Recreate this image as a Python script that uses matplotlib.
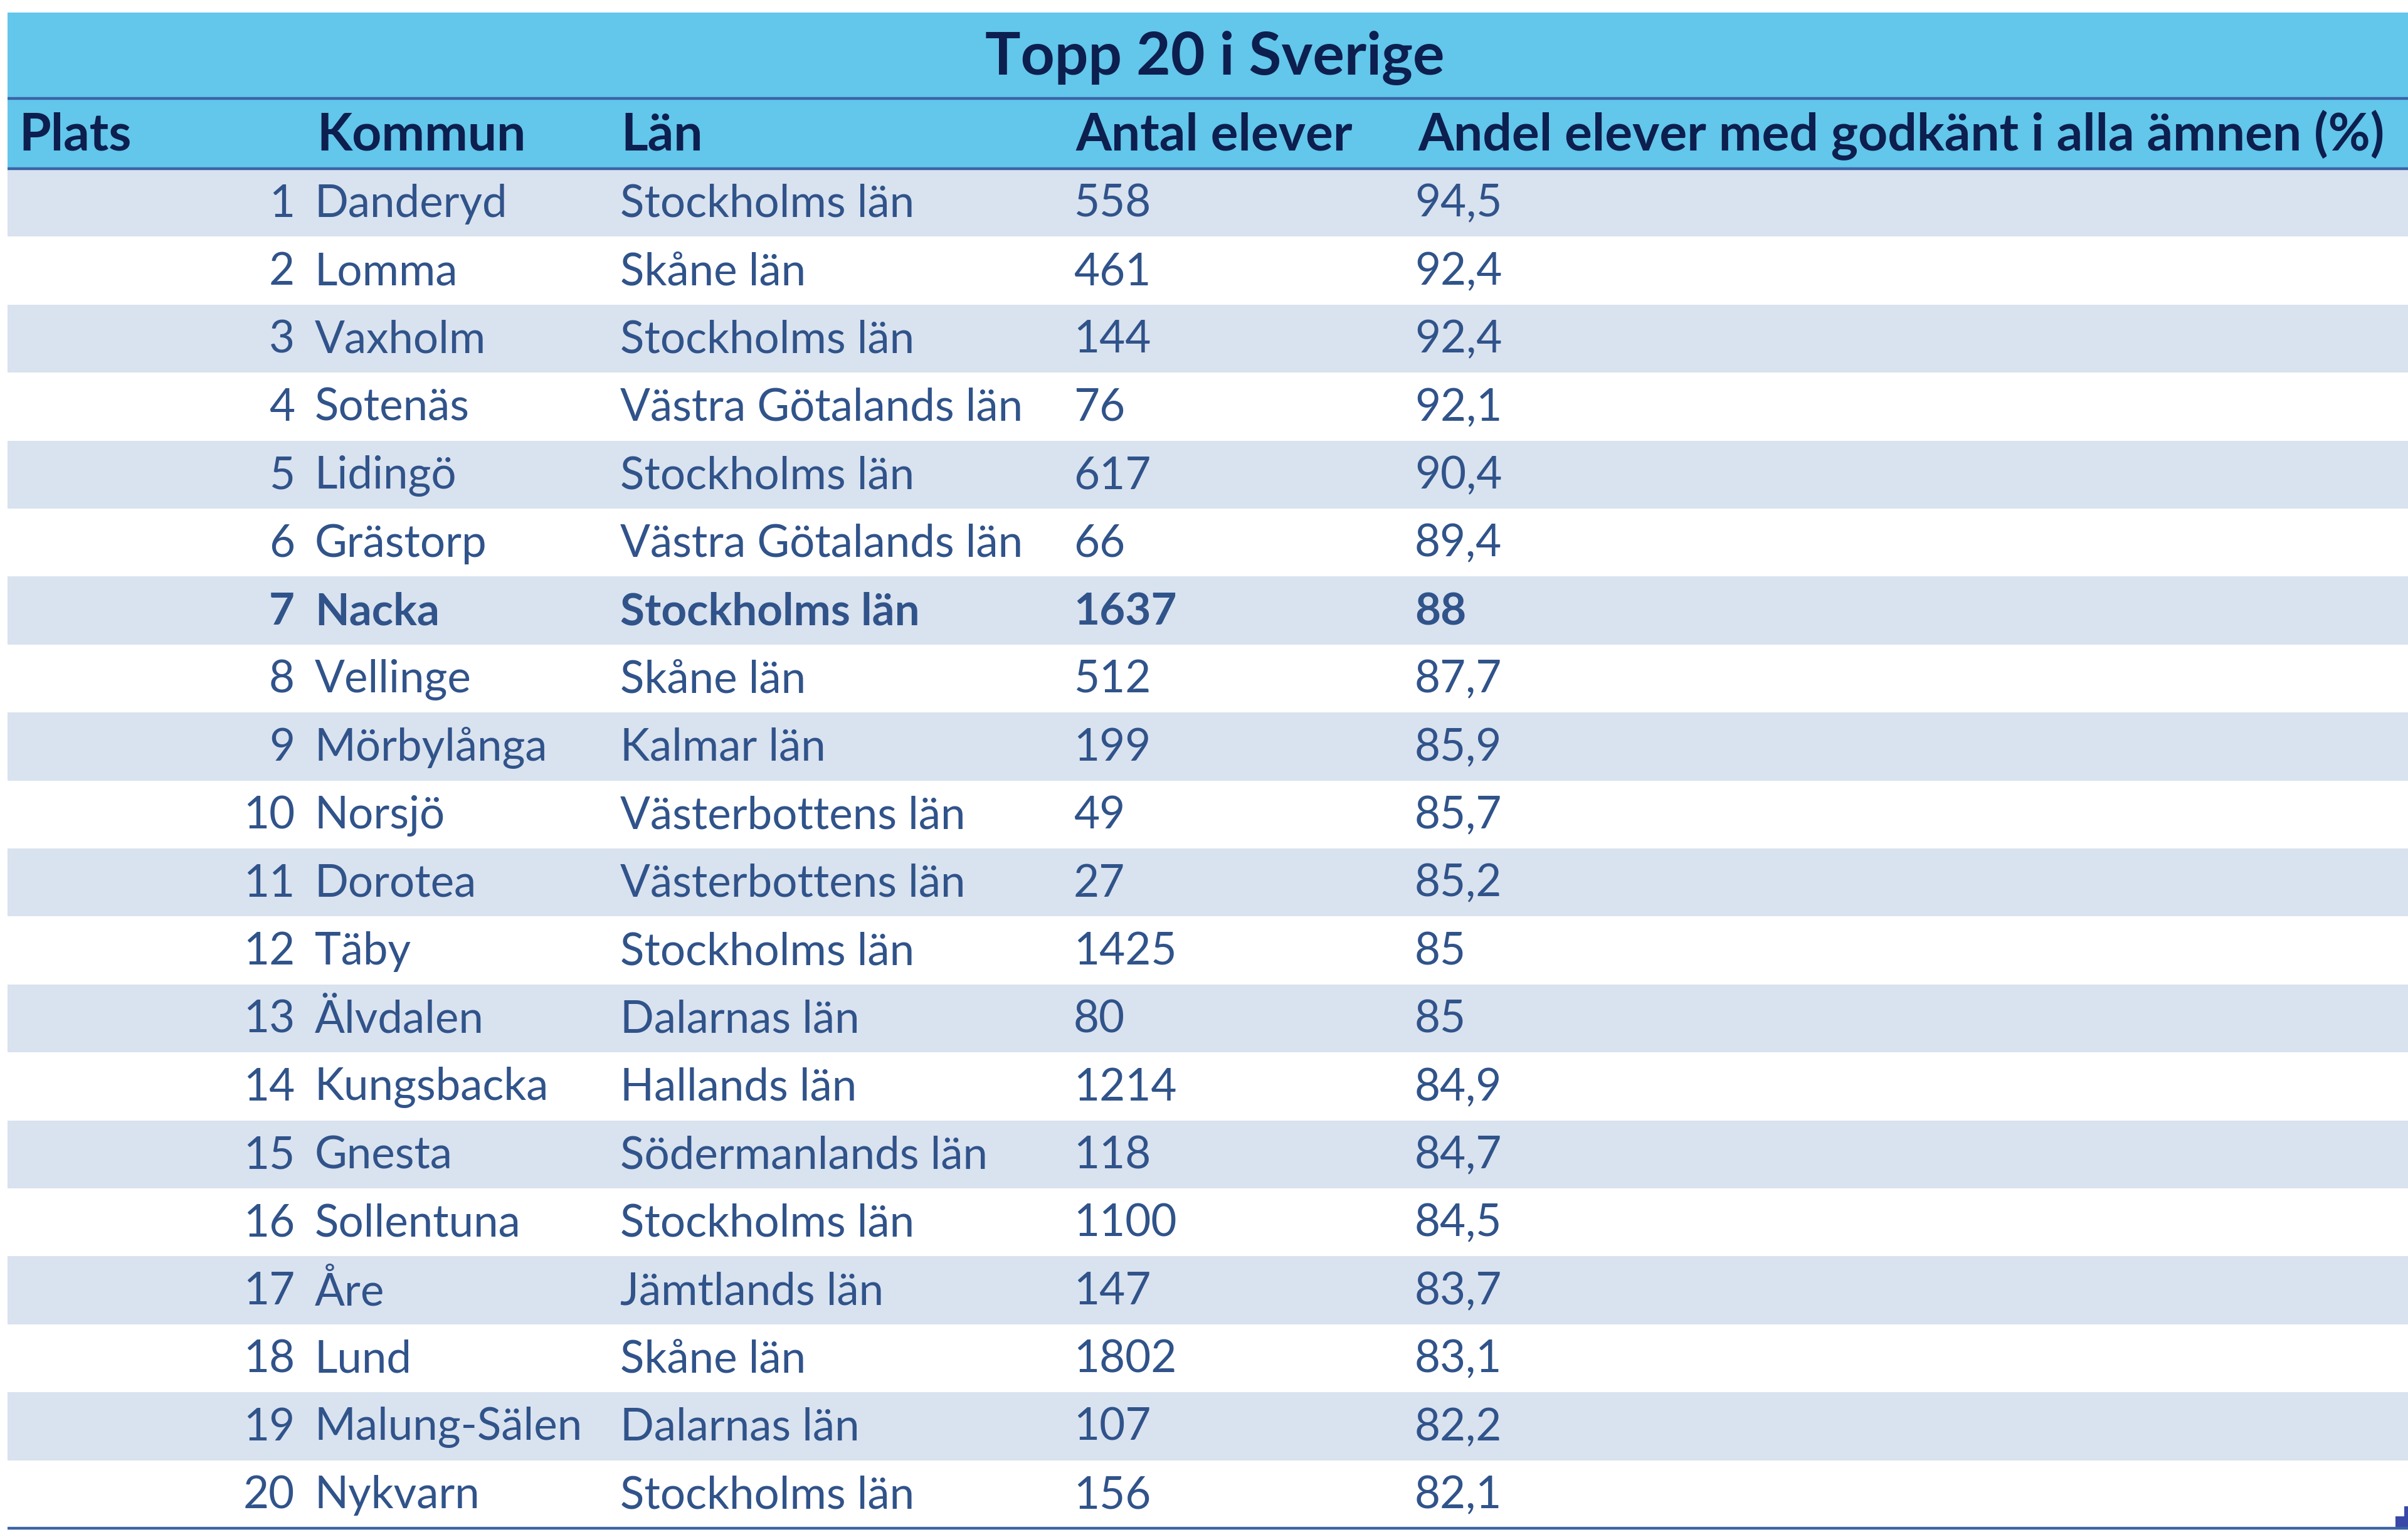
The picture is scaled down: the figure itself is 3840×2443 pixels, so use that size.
import matplotlib.pyplot as plt
from matplotlib.patches import Rectangle

plt.rcParams['font.family'] = ['Lato', 'DejaVu Sans']

title = "Topp 20 i Sverige"
headers = ["Plats", "Kommun", "Län", "Antal elever", "Andel elever med godkänt i alla ämnen (%)"]

plats = list(range(1, 21))
kommun = ["Danderyd", "Lomma", "Vaxholm", "Sotenäs", "Lidingö", "Grästorp", "Nacka",
          "Vellinge", "Mörbylånga", "Norsjö", "Dorotea", "Täby", "Älvdalen", "Kungsbacka",
          "Gnesta", "Sollentuna", "Åre", "Lund", "Malung-Sälen", "Nykvarn"]
lan = ["Stockholms län", "Skåne län", "Stockholms län", "Västra Götalands län",
       "Stockholms län", "Västra Götalands län", "Stockholms län", "Skåne län",
       "Kalmar län", "Västerbottens län", "Västerbottens län", "Stockholms län",
       "Dalarnas län", "Hallands län", "Södermanlands län", "Stockholms län",
       "Jämtlands län", "Skåne län", "Dalarnas län", "Stockholms län"]
antal = [558, 461, 144, 76, 617, 66, 1637, 512, 199, 49, 27, 1425, 80, 1214, 118,
         1100, 147, 1802, 107, 156]
andel = [94.5, 92.4, 92.4, 92.1, 90.4, 89.4, 88, 87.7, 85.9, 85.7, 85.2, 85, 85,
         84.9, 84.7, 84.5, 83.7, 83.1, 82.2, 82.1]
highlight = "Nacka"

W, H = 3840, 2443
band_fill = "#63c6eb"
row_fill = "#d9e2ef"
line_col = "#3a64a5"
head_col = "#0c1f4f"
body_col = "#30538a"


def fmt_pct(v):
    if float(v).is_integer():
        return str(int(v))
    return f"{v:.1f}".replace(".", ",")


fig = plt.figure(figsize=(W / 100, H / 100), dpi=100)
ax = fig.add_axes([0, 0, 1, 1])
ax.set_xlim(0, W)
ax.set_ylim(H, 0)
ax.axis("off")

left, right = 12, W
top, line1, line2, bottom = 20, 157, 269, 2437
row_h = (bottom - line2) / len(plats)

# header bands + striped rows
ax.add_patch(Rectangle((left, top), right - left, line2 - top, color=band_fill, lw=0))
for i in range(0, len(plats), 2):
    ax.add_patch(Rectangle((left, line2 + i * row_h), right - left, row_h, color=row_fill, lw=0))
for y in (line1, line2, bottom):
    ax.plot([left, right], [y, y], color=line_col, lw=3.2, solid_capstyle="butt")

# little resize handle in the corner
ax.add_patch(Rectangle((3820, 2418), 20, 19, color="#3a48a8", lw=0))
ax.add_patch(Rectangle((3834, 2402), 6, 18, color="#3a48a8", lw=0))

fs = 51
ax.text(1937, (top + line1) / 2 + 4, title, ha="center", va="center",
        fontsize=68, fontweight="bold", color=head_col)

head_x = [30, 505, 990, 1715, 2261]
for x, h in zip(head_x, headers):
    ax.text(x, (line1 + line2) / 2 + 3, h, ha="left", va="center",
            fontsize=59, fontweight="bold", color=head_col)

for i in range(len(plats)):
    y = line2 + (i + 0.5) * row_h + 2
    w = "bold" if kommun[i] == highlight else "normal"
    kw = dict(va="center", fontsize=fs, fontweight=w, color=body_col)
    ax.text(470, y, str(plats[i]), ha="right", **kw)
    ax.text(502, y, kommun[i], ha="left", **kw)
    ax.text(989, y, lan[i], ha="left", **kw)
    ax.text(1712, y, str(antal[i]), ha="left", **kw)
    ax.text(2256, y, fmt_pct(andel[i]), ha="left", **kw)

fig.savefig("out.png", dpi=100, facecolor="white")
